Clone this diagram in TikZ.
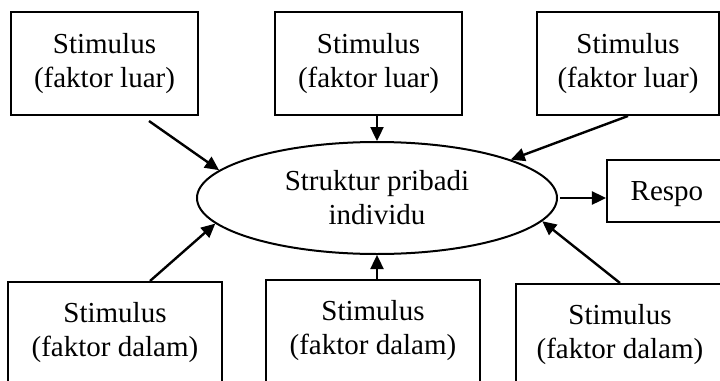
\documentclass[tikz,border=0pt]{standalone}
\usepackage{fontspec}
\setmainfont{Liberation Serif}
\usetikzlibrary{arrows.meta,shapes.geometric}

\begin{document}
\begin{tikzpicture}[x=0.5pt, y=-0.5pt,
    stimbox/.style={draw, line width=1pt, anchor=north, align=center,
      inner xsep=0pt, inner ysep=0pt, text height=37.5pt,
      font=\fontsize{14.5}{17}\selectfont},
    arr/.style={-{Triangle[length=7pt,width=6.5pt]}, line width=1.2pt}]
    \useasboundingbox (0,0) rectangle (720,381);

    % Stimulus from outside
    \node[stimbox, minimum width=93.5pt, text depth=14pt]
      (luar1) at (104.5,11) {Stimulus\\(faktor luar)};
    \node[stimbox, minimum width=93.5pt, text depth=14pt]
      (luar2) at (368.5,11) {Stimulus\\(faktor luar)};
    \node[stimbox, minimum width=91pt, text depth=14pt]
      (luar3) at (628,11) {Stimulus\\(faktor luar)};

    % Personal structure
    \node[ellipse, draw, line width=1pt, minimum width=180pt,
      minimum height=56pt, inner sep=0pt, align=center,
      font=\fontsize{14.5}{17}\selectfont]
      (pribadi) at (377,198) {Struktur pribadi\\individu};

    % Response
    \node[stimbox, minimum width=60pt, text height=20pt, text depth=11pt]
      (respo) at (667,159) {Respo};

    % Stimulus from inside
    \node[stimbox, minimum width=107pt, text height=37pt, text depth=60pt]
      (dalam1) at (115,281) {Stimulus\\(faktor dalam)};
    \node[stimbox, minimum width=107pt, text height=37pt, text depth=60pt]
      (dalam2) at (373,279) {Stimulus\\(faktor dalam)};
    \node[stimbox, minimum width=104pt, text height=37pt, text depth=60pt]
      (dalam3) at (620,283) {Stimulus\\(faktor dalam)};

    % Arrows
    \draw[arr] ([xshift=22.25pt,yshift=-2.5pt]luar1.south) -- (pribadi.170);
    \draw[arr] (pribadi.north |- luar2.south) -- (pribadi.north);
    \draw[arr] (luar3.south) -- (pribadi.16);
    \draw[arr] ([xshift=1pt]pribadi.east) -- (pribadi.east -| respo.west);
    \draw[arr] (dalam3.north) -- (pribadi.-8);
    \draw[arr] (pribadi.south |- dalam2.north) -- (pribadi.south);
    \draw[arr] ([xshift=17.5pt]dalam1.north) -- (pribadi.189);
  \end{tikzpicture}
\end{document}
